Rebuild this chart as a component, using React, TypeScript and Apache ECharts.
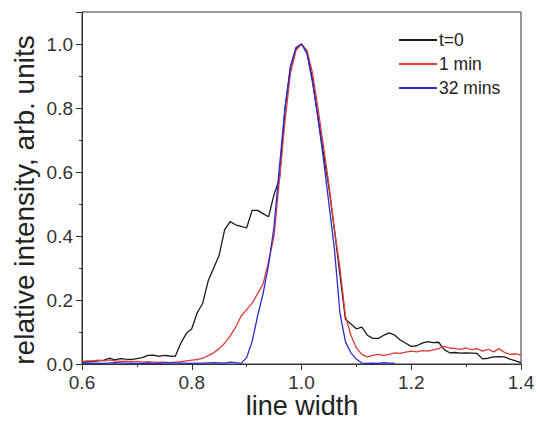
import React, { useEffect, useRef } from "react";
import * as echarts from "echarts";

const xTicks = [0.6, 0.8, 1.0, 1.2, 1.4];
const yTicks = [0.0, 0.2, 0.4, 0.6, 0.8, 1.0];
const yTitle = "relative intensity, arb. units";
const xTitle = "line width";

const xMain = [
  0.6, 0.61, 0.62, 0.63, 0.64, 0.65, 0.66, 0.67, 0.68, 0.69,
  0.7, 0.71, 0.72, 0.73, 0.74, 0.75, 0.76, 0.77, 0.78, 0.79,
  0.8, 0.81, 0.82, 0.83, 0.84, 0.85, 0.86, 0.87, 0.88, 0.89,
  0.9, 0.91, 0.92, 0.93, 0.94, 0.95, 0.96, 0.97, 0.98, 0.99,
  1.0, 1.01, 1.02, 1.03, 1.04, 1.05, 1.06, 1.07, 1.08, 1.09,
  1.1, 1.11, 1.12, 1.13, 1.14, 1.15, 1.16, 1.17, 1.18, 1.19,
  1.2, 1.21, 1.22, 1.23, 1.24, 1.25, 1.26, 1.27, 1.28, 1.29,
  1.3, 1.31, 1.32, 1.33, 1.34, 1.35, 1.36, 1.37, 1.38, 1.39,
  1.4,
];

const t0 = [
  0.005, 0.007, 0.008, 0.01, 0.012, 0.018, 0.013, 0.017, 0.015, 0.014,
  0.017, 0.02, 0.027, 0.028, 0.024, 0.027, 0.025, 0.024, 0.065, 0.095,
  0.11, 0.16, 0.19, 0.26, 0.3, 0.34, 0.42, 0.445, 0.435, 0.43,
  0.425, 0.48, 0.48, 0.47, 0.46, 0.53, 0.58, 0.8, 0.93, 0.985,
  1.0, 0.975, 0.89, 0.77, 0.66, 0.55, 0.42, 0.28, 0.14, 0.125,
  0.11, 0.115, 0.09, 0.08, 0.08, 0.09, 0.097, 0.09, 0.075, 0.065,
  0.055, 0.057, 0.065, 0.07, 0.067, 0.068, 0.045, 0.035, 0.036, 0.034,
  0.035, 0.034, 0.033, 0.016, 0.018, 0.022, 0.023, 0.022, 0.015, 0.01,
  0.004,
];

const oneMin = [
  0.008, 0.01, 0.01, 0.012, 0.01, 0.013, 0.01, 0.008, 0.009, 0.007,
  0.008, 0.006, 0.007, 0.006, 0.005, 0.006, 0.004, 0.006, 0.007, 0.01,
  0.012, 0.014, 0.018, 0.026, 0.035, 0.048, 0.065, 0.088, 0.115, 0.15,
  0.17, 0.19, 0.22, 0.25, 0.32, 0.4, 0.58, 0.76, 0.91, 0.98,
  1.0, 0.98, 0.91, 0.8, 0.68, 0.56, 0.42, 0.3, 0.15, 0.09,
  0.05, 0.03, 0.022, 0.027, 0.03, 0.027, 0.03, 0.035, 0.033, 0.037,
  0.04, 0.038, 0.042, 0.04, 0.044, 0.048, 0.055, 0.05, 0.048, 0.046,
  0.05, 0.045, 0.048, 0.04, 0.046, 0.038, 0.048, 0.036, 0.03, 0.032,
  0.028,
];

const xBlue = [
  0.6, 0.62, 0.64, 0.66, 0.68, 0.7, 0.72, 0.74, 0.76, 0.78,
  0.8, 0.82, 0.84, 0.86, 0.87, 0.88, 0.89, 0.9, 0.91, 0.92,
  0.93, 0.94, 0.95, 0.96, 0.97, 0.98, 0.99, 1.0, 1.01, 1.02,
  1.03, 1.04, 1.05, 1.06, 1.07, 1.08, 1.09, 1.1, 1.11, 1.12,
  1.13, 1.14, 1.15, 1.16, 1.17,
];

const mins32 = [
  0.002, 0.003, 0.002, 0.004, 0.003, 0.002, 0.003, 0.002, 0.004, 0.003,
  0.002, 0.003, 0.004, 0.003, 0.006, 0.004, 0.002, 0.02, 0.07, 0.15,
  0.22, 0.31, 0.43, 0.62, 0.8, 0.93, 0.99, 1.0, 0.97, 0.88,
  0.77, 0.64, 0.5, 0.36, 0.16, 0.07, 0.035, 0.015, 0.003, 0.002,
  0.003, 0.002, 0.004, 0.003, 0.003,
];

const FONT = "Liberation Sans, Arial, Helvetica, sans-serif";

export default function App() {
  const ref = useRef<HTMLDivElement>(null);
  useEffect(() => {
    if (!ref.current) return;
    const chart = echarts.init(ref.current, null, { renderer: "svg" });
    const pair = (xs: number[], ys: number[]) => xs.map((x, i) => [x, ys[i]]);
    const axisColor = "#333";
    chart.setOption({
      animation: false,
      backgroundColor: "#fff",
      grid: {
        left: 82,
        right: 15,
        top: 12,
        bottom: 57,
        show: true,
        borderColor: axisColor,
        borderWidth: 1,
        backgroundColor: "transparent",
        containLabel: false,
        outerBoundsMode: "none",
      },
      graphic: [
        {
          type: "text",
          x: 24,
          y: 200,
          rotation: Math.PI / 2,
          style: {
            text: yTitle,
            fontFamily: FONT,
            fontSize: 28,
            fill: "#222",
            align: "center",
            verticalAlign: "middle",
          },
        },
        {
          type: "text",
          x: 302,
          y: 406,
          style: {
            text: xTitle,
            fontFamily: FONT,
            fontSize: 27,
            fill: "#222",
            align: "center",
            verticalAlign: "middle",
          },
        },
      ],
      legend: {
        orient: "vertical",
        left: 394,
        top: 26,
        itemWidth: 38,
        itemHeight: 2,
        itemGap: 6,
        icon: "rect",
        textStyle: { fontFamily: FONT, fontSize: 17.5, color: "#222", padding: [0, 0, 0, -3] },
        data: ["t=0", "1 min", "32 mins"],
      },
      xAxis: {
        type: "value",
        min: 0.6,
        max: 1.4,
        interval: 0.2,
        axisLine: { show: true, lineStyle: { color: axisColor, width: 1 } },
        axisTick: { show: true, inside: false, length: 6, lineStyle: { color: axisColor } },
        minorTick: { show: true, splitNumber: 2, length: 3, lineStyle: { color: axisColor } },
        splitLine: { show: false },
        axisLabel: {
          fontFamily: FONT,
          fontSize: 19,
          color: "#333",
          margin: 9,
          formatter: (v: number) => {
            const t = xTicks.find((k) => Math.abs(k - v) < 1e-6);
            return t === undefined ? "" : t.toFixed(1);
          },
        },
      },
      yAxis: {
        type: "value",
        min: 0,
        max: 1.1,
        interval: 0.2,
        axisLine: { show: true, lineStyle: { color: axisColor, width: 1 } },
        axisTick: { show: true, inside: false, length: 6, lineStyle: { color: axisColor } },
        minorTick: { show: true, splitNumber: 2, length: 3, lineStyle: { color: axisColor } },
        splitLine: { show: false },
        axisLabel: {
          fontFamily: FONT,
          fontSize: 19,
          color: "#333",
          margin: 9,
          showMaxLabel: false,
          formatter: (v: number) => {
            const t = yTicks.find((k) => Math.abs(k - v) < 1e-6);
            return t === undefined ? "" : t.toFixed(1);
          },
        },
      },
      series: [
        {
          name: "t=0",
          type: "line",
          data: pair(xMain, t0),
          showSymbol: false,
          symbol: "none",
          lineStyle: { color: "#1a1a1a", width: 1.3 },
          itemStyle: { color: "#1a1a1a" },
          z: 2,
        },
        {
          name: "1 min",
          type: "line",
          data: pair(xMain, oneMin),
          showSymbol: false,
          symbol: "none",
          lineStyle: { color: "#e03a3c", width: 1.3 },
          itemStyle: { color: "#e03a3c" },
          z: 3,
        },
        {
          name: "32 mins",
          type: "line",
          data: pair(xBlue, mins32),
          showSymbol: false,
          symbol: "none",
          lineStyle: { color: "#2b2bd0", width: 1.3 },
          itemStyle: { color: "#2b2bd0" },
          z: 4,
        },
      ],
    });
    return () => chart.dispose();
  }, []);
  return <div ref={ref} style={{ width: 536, height: 421, position: "absolute", left: 0, top: 0 }} />;
}
